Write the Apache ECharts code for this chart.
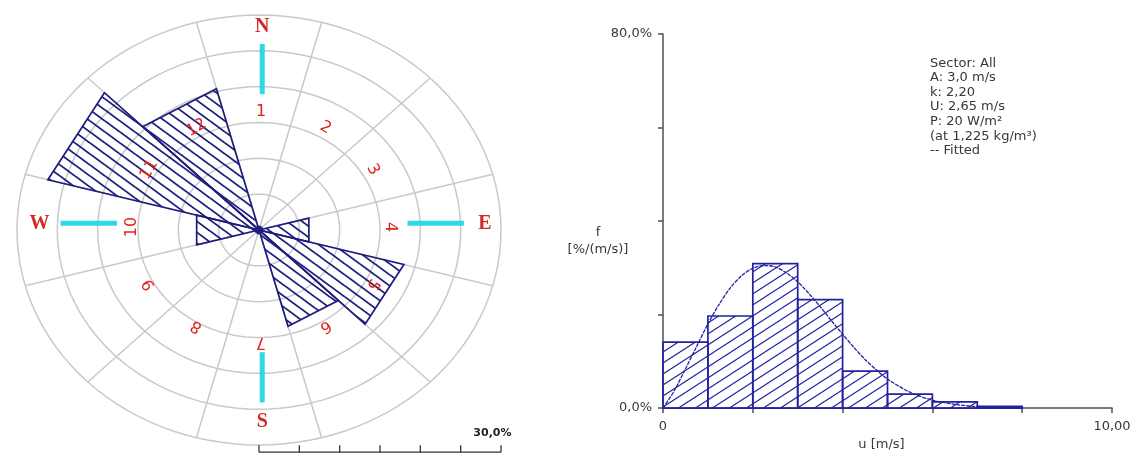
<!DOCTYPE html>
<html><head><meta charset="utf-8">
<script src="https://cdn.jsdelivr.net/npm/echarts@6/dist/echarts.min.js"></script>
<style>html,body{margin:0;padding:0;background:#fff}#c{width:1147px;height:456px}</style>
</head><body><div id="c"></div>
<script>
// ---------------- data ----------------
const sectorNames = ['1','2','3','4','5','6','7','8','9','10','11','12'];
const sectorFreq  = [0.5, 0.4, 0.4, 6.4, 18.6, 13.9, 0.5, 0.4, 0.4, 8.0, 27.1, 20.4];
const ringLevels  = [5, 10, 15, 20, 25, 30];
const compassLetters = ['N', 'E', 'S', 'W'];
const scaleLabel = '30,0%';

const binStart = [0, 1, 2, 3, 4, 5, 6, 7];
const binFreq  = [14.1, 19.7, 30.9, 23.2, 7.9, 3.0, 1.35, 0.35];
const fitU = [0, 0.25, 0.5, 0.75, 1, 1.25, 1.5, 1.75, 2, 2.25, 2.5, 2.75, 3, 3.25, 3.5, 3.75, 4, 4.25, 4.5, 4.75, 5, 5.5, 6, 6.5, 7, 7.5, 8];
const fitF = [0, 3.7, 8.4, 13.2, 18.0, 22.2, 25.7, 28.3, 29.9, 30.5, 30.2, 28.9, 27.0, 24.5, 21.7, 18.7, 15.8, 13.0, 10.4, 8.2, 6.2, 3.4, 1.7, 0.8, 0.3, 0.1, 0.04];
const yTickLabels = {0: '0,0%', 80: '80,0%'};
const xTickLabels = {0: '0', 10: '10,00'};
const yAxisTitle = ['f', '[%/(m/s)]'];
const xAxisTitle = 'u [m/s]';
const infoLines = ['Sector: All', 'A: 3,0 m/s', 'k: 2,20', 'U: 2,65 m/s', 'P: 20 W/m\u00b2', '(at 1,225 kg/m\u00b3)', '-- Fitted'];

// ---------------- styles ----------------
const NAVY = '#1d1d7e';
const BLUE = '#2222a0';
const GRIDC = '#c9c9c9';
const RED = '#e2231c';
const CYAN = '#2fd8e4';
const TXT = '#383838';
const FONT = '"DejaVu Sans", Verdana, sans-serif';

function hatch(w, h, color, lw, rising) {
  const c = document.createElement('canvas');
  c.width = w; c.height = h;
  const g = c.getContext('2d');
  g.strokeStyle = color; g.lineWidth = lw;
  for (const dx of [-w, 0, w]) for (const dy of [-h, 0, h]) {
    g.beginPath();
    if (rising) { g.moveTo(dx, dy + h); g.lineTo(dx + w, dy); }
    else { g.moveTo(dx, dy); g.lineTo(dx + w, dy + h); }
    g.stroke();
  }
  return c;
}
const roseFill = {image: hatch(15, 11, NAVY, 1.8, false), repeat: 'repeat'};
const histFill = {image: hatch(17, 11, BLUE, 1.15, true), repeat: 'repeat'};

const DEG = Math.PI / 180;
const nSec = sectorNames.length;
const secW = 360 / nSec;
const maxRing = ringLevels[ringLevels.length - 1];
const labelR = 16;
const compassC = [0.4, 0.95];

const chart = echarts.init(document.getElementById('c'), null, {renderer: 'canvas'});

const hiddenAxis = (idx) => ({gridIndex: idx, type: 'value', min: -30, max: 30, show: false});

const option = {
  animation: false,
  backgroundColor: '#fff',
  grid: [
    {left: 17, top: 15, width: 484, height: 430},
    {left: 663, top: 34, width: 449, height: 392}
  ],
  xAxis: [
    hiddenAxis(0),
    {
      gridIndex: 1, type: 'value', min: 0, max: 10, interval: 2,
      axisLine: {show: true, lineStyle: {color: '#505050', width: 1.5}},
      axisTick: {show: true, length: 5, lineStyle: {color: '#505050', width: 1.5}},
      splitLine: {show: false},
      axisLabel: {show: true, margin: 12, color: TXT, fontFamily: FONT, fontSize: 13,
        formatter: v => (xTickLabels[v] !== undefined ? xTickLabels[v] : '')},
      name: xAxisTitle, nameLocation: 'middle', nameGap: 13,
      nameTextStyle: {color: TXT, fontFamily: FONT, fontSize: 13, verticalAlign: 'top', padding: [0, 12, 0, 0]}
    }
  ],
  yAxis: [
    hiddenAxis(0),
    {
      gridIndex: 1, type: 'value', min: 0, max: 80, interval: 20,
      axisLine: {show: true, lineStyle: {color: '#505050', width: 1.5}},
      axisTick: {show: true, length: 5, lineStyle: {color: '#505050', width: 1.5}},
      splitLine: {show: false},
      axisLabel: {show: true, margin: 11, color: TXT, fontFamily: FONT, fontSize: 13,
        formatter: v => (yTickLabels[v] !== undefined ? yTickLabels[v] : '')}
    }
  ],
  graphic: [
    {type: 'text', left: 930, top: 56, z: 10,
     style: {text: infoLines.join('\n'), fill: TXT, font: '13px ' + FONT, lineHeight: 14.6}},
    {type: 'text', x: 598, y: 241, z: 10,
     style: {text: yAxisTitle.join('\n'), fill: TXT, font: '13px ' + FONT, lineHeight: 17, align: 'center', verticalAlign: 'middle'}}
  ],
  series: [
    // rings
    {
      type: 'custom', xAxisIndex: 0, yAxisIndex: 0, z: 1, silent: true,
      data: ringLevels.map(v => [0, v]),
      renderItem(params, api) {
        const r = api.value(1);
        const pts = [];
        for (let a = 0; a < 360; a += 3) pts.push(api.coord([r * Math.sin(a * DEG), r * Math.cos(a * DEG)]));
        return {type: 'polygon', shape: {points: pts}, style: {fill: 'none', stroke: GRIDC, lineWidth: 1.5}};
      }
    },
    // spokes (sector boundaries)
    {
      type: 'custom', xAxisIndex: 0, yAxisIndex: 0, z: 1, silent: true,
      data: sectorNames.map((n, i) => [i, maxRing]),
      renderItem(params, api) {
        const a = (api.value(0) * secW + secW / 2) * DEG;
        const r = api.value(1);
        const p0 = api.coord([0, 0]);
        const p1 = api.coord([r * Math.sin(a), r * Math.cos(a)]);
        return {type: 'line', shape: {x1: p0[0], y1: p0[1], x2: p1[0], y2: p1[1]}, style: {stroke: GRIDC, lineWidth: 1.5}};
      }
    },
    // rose sectors
    {
      type: 'custom', xAxisIndex: 0, yAxisIndex: 0, z: 3, silent: true,
      data: sectorFreq.map((v, i) => [i, v]),
      renderItem(params, api) {
        const i = api.value(0), r = api.value(1);
        const a0 = (i * secW - secW / 2) * DEG, a1 = (i * secW + secW / 2) * DEG;
        const pts = [api.coord([0, 0]),
          api.coord([r * Math.sin(a0), r * Math.cos(a0)]),
          api.coord([r * Math.sin(a1), r * Math.cos(a1)])];
        return {type: 'polygon', shape: {points: pts}, style: {fill: roseFill, stroke: NAVY, lineWidth: 1.7, lineJoin: 'miter'}};
      }
    },
    // sector labels
    {
      type: 'custom', xAxisIndex: 0, yAxisIndex: 0, z: 5, silent: true,
      data: sectorNames.map((n, i) => [i, labelR]),
      renderItem(params, api) {
        const i = api.value(0), r = api.value(1);
        const a = i * secW * DEG;
        const p = api.coord([r * Math.sin(a), r * Math.cos(a)]);
        return {type: 'text', x: p[0] + 2, y: p[1] - 3, rotation: -a,
          style: {text: sectorNames[i], fill: RED, font: '16px ' + FONT, align: 'center', verticalAlign: 'middle'}};
      }
    },
    // compass marks
    {
      type: 'custom', xAxisIndex: 0, yAxisIndex: 0, z: 6, silent: true,
      data: compassLetters.map((n, i) => [i, 27.6]),
      renderItem(params, api) {
        const i = api.value(0), rL = api.value(1);
        const a = i * 90 * DEG, s = Math.sin(a), c = Math.cos(a);
        const cx = compassC[0], cy = compassC[1];
        const pa = api.coord([cx + 18 * s, cy + 18 * c]);
        const pb = api.coord([cx + 25 * s, cy + 25 * c]);
        const pl = api.coord([cx + rL * s, cy + rL * c]);
        return {type: 'group', children: [
          {type: 'line', shape: {x1: pa[0], y1: pa[1], x2: pb[0], y2: pb[1]}, style: {stroke: CYAN, lineWidth: 5}},
          {type: 'text', x: pl[0], y: pl[1] + 1, style: {text: compassLetters[i], fill: '#d42a26',
            font: 'bold 20px "Liberation Serif", "Times New Roman", serif', align: 'center', verticalAlign: 'middle'}}
        ]};
      }
    },
    // hub + scale bar
    {
      type: 'custom', xAxisIndex: 0, yAxisIndex: 0, z: 6, silent: true,
      data: [[0, maxRing]],
      renderItem(params, api) {
        const full = api.value(1);
        const c0 = api.coord([0, 0]);
        const yb = -31, yt = -30.05;
        const b0 = api.coord([0, yb]), b1 = api.coord([full, yb]);
        const kids = [
          {type: 'circle', shape: {cx: c0[0], cy: c0[1], r: 4}, style: {fill: NAVY}},
          {type: 'line', shape: {x1: b0[0], y1: b0[1], x2: b1[0], y2: b1[1]}, style: {stroke: '#333', lineWidth: 1.3}}
        ];
        [0].concat(ringLevels).forEach(v => {
          const t0 = api.coord([v, yb]), t1 = api.coord([v, yt]);
          kids.push({type: 'line', shape: {x1: t0[0], y1: t0[1], x2: t1[0], y2: t1[1]}, style: {stroke: '#333', lineWidth: 1.3}});
        });
        const lp = api.coord([full + 1.3, -28.3]);
        kids.push({type: 'text', x: lp[0], y: lp[1], style: {text: scaleLabel, fill: '#222', font: 'bold 11px ' + FONT, align: 'right', verticalAlign: 'middle'}});
        return {type: 'group', children: kids};
      }
    },
    // histogram bars
    {
      type: 'custom', xAxisIndex: 1, yAxisIndex: 1, z: 3, silent: true,
      data: binStart.map((b, i) => [b, binFreq[i]]),
      renderItem(params, api) {
        const x0 = api.value(0), v = api.value(1);
        const w = binStart[1] - binStart[0];
        const p0 = api.coord([x0, v]), p1 = api.coord([x0 + w, 0]);
        return {type: 'rect', shape: {x: p0[0], y: p0[1], width: p1[0] - p0[0], height: p1[1] - p0[1]},
          style: {fill: histFill, stroke: BLUE, lineWidth: 1.7}};
      }
    },
    // fitted curve
    {
      type: 'line', xAxisIndex: 1, yAxisIndex: 1, z: 4, silent: true,
      data: fitU.map((u, i) => [u, fitF[i]]),
      showSymbol: false, smooth: 0.3,
      lineStyle: {color: BLUE, width: 1.3, type: [4, 1]}
    }
  ]
};
chart.setOption(option);
</script>
</body></html>
